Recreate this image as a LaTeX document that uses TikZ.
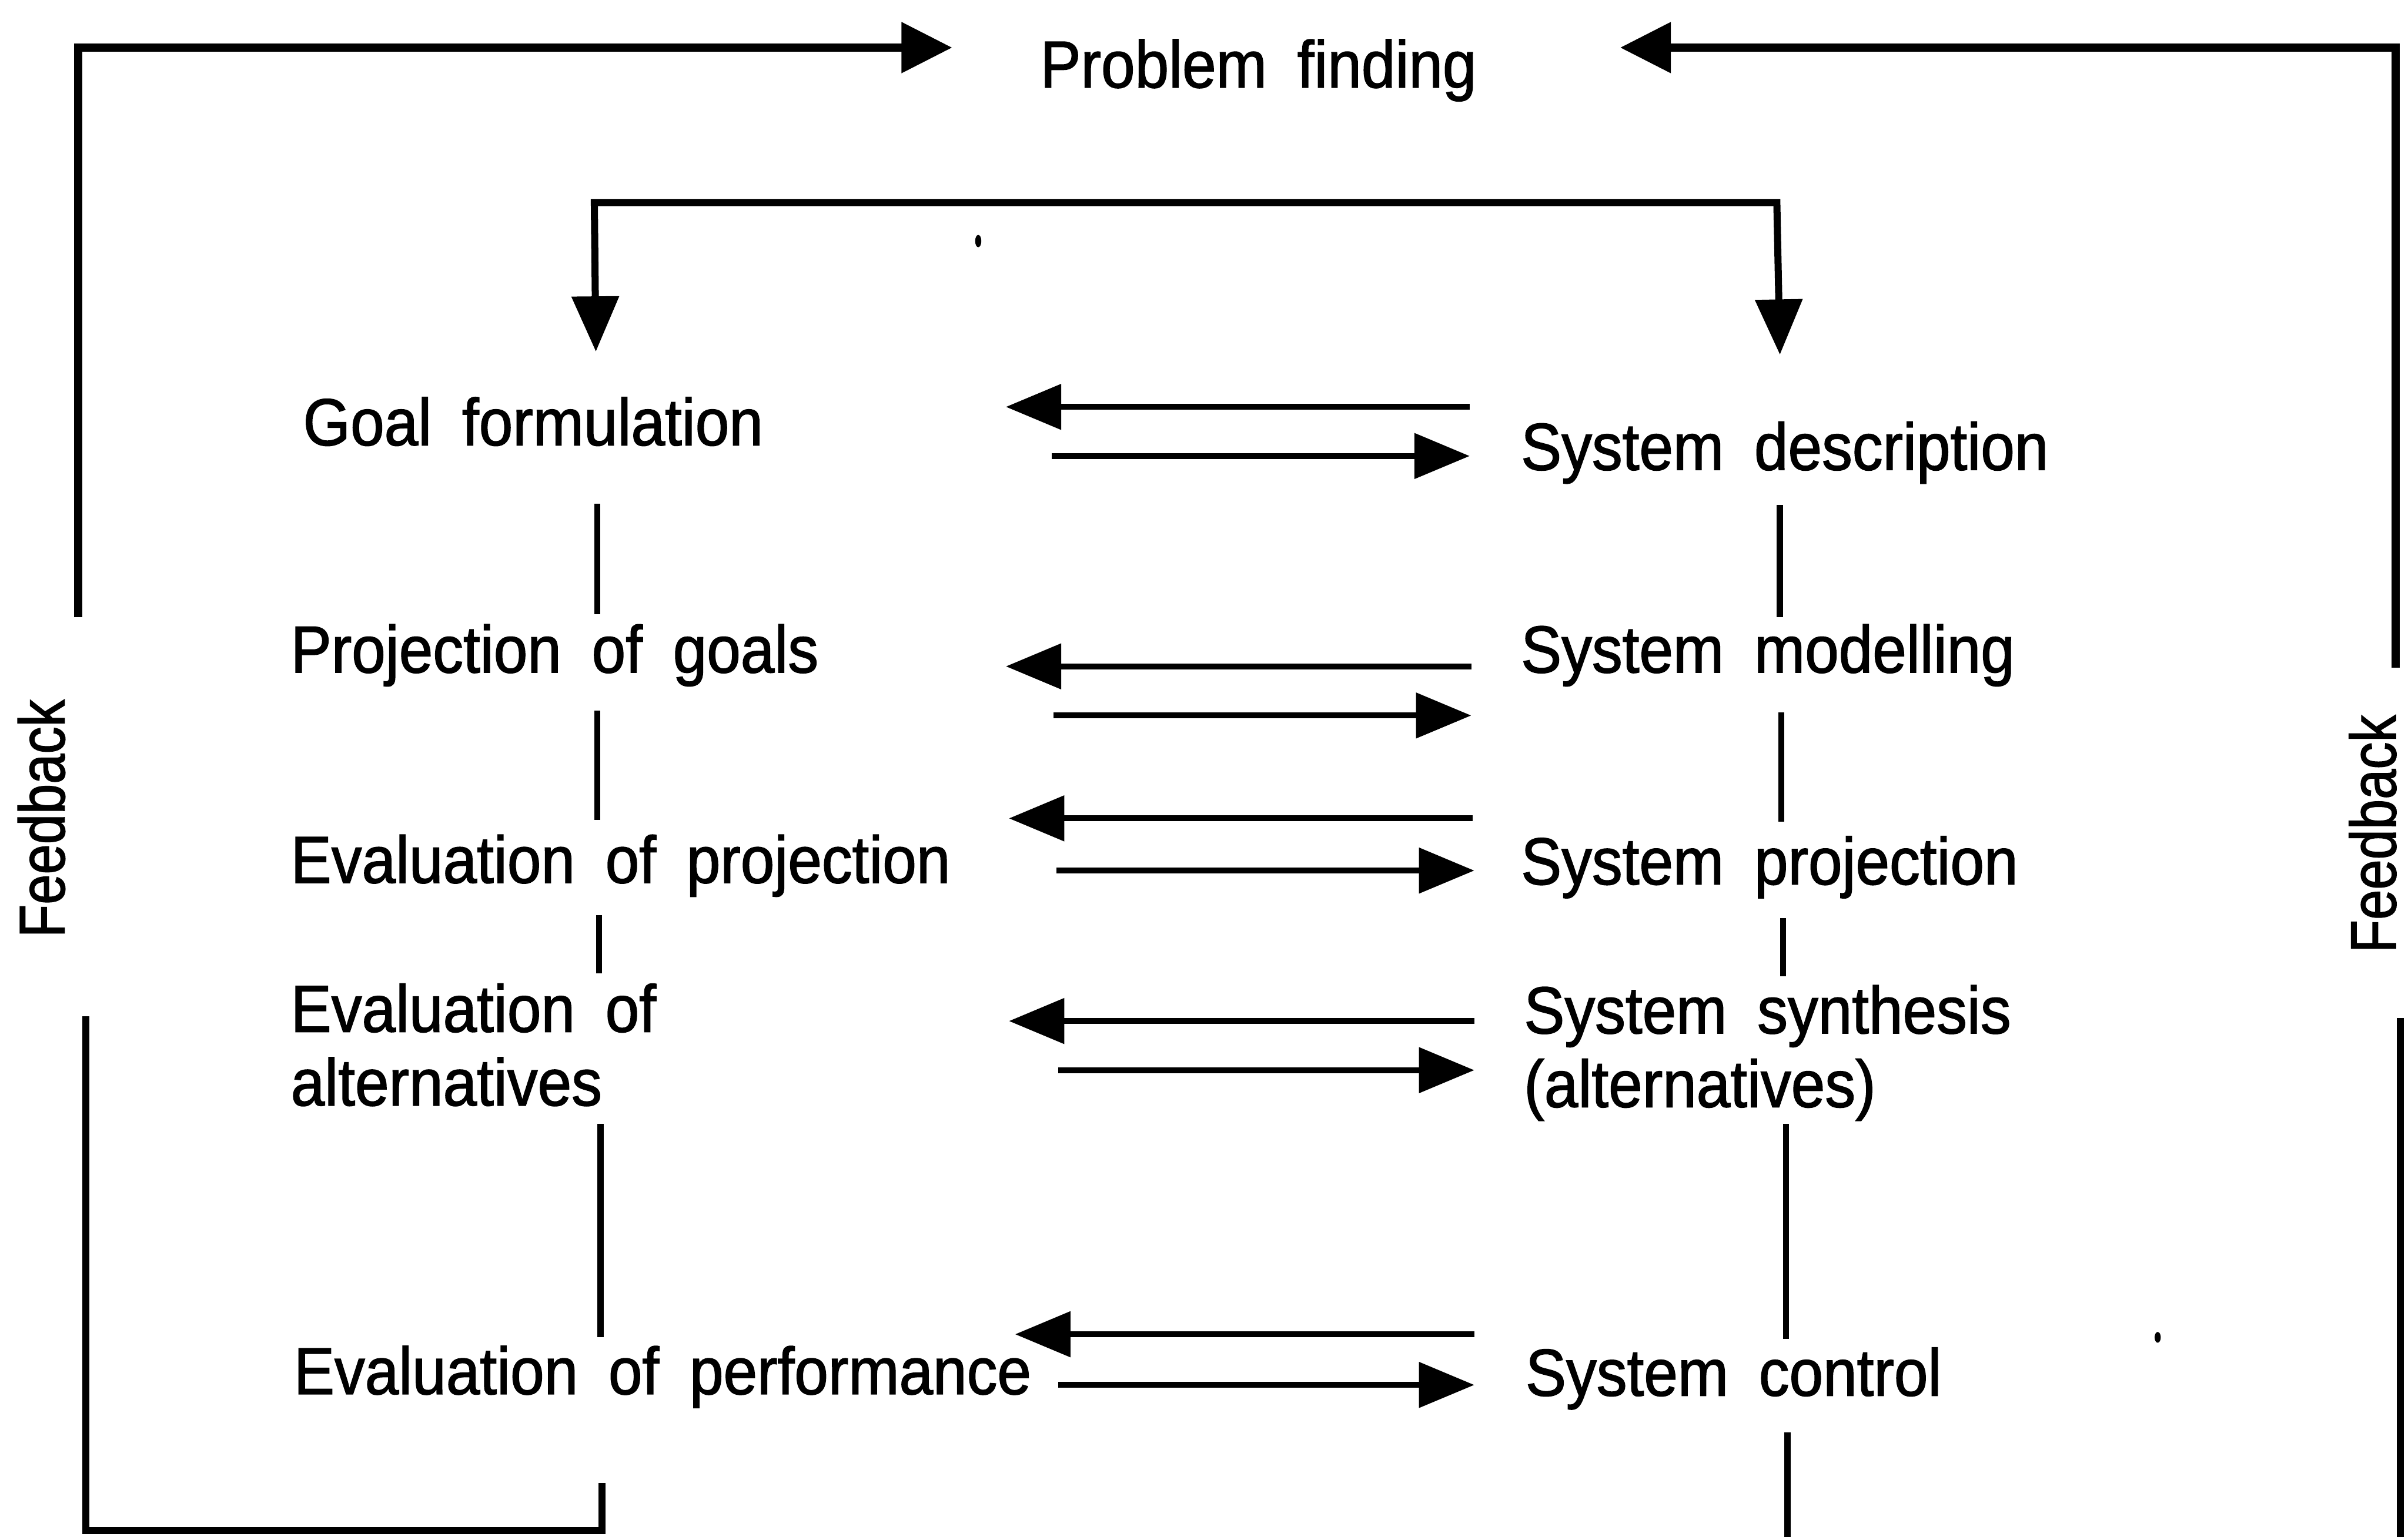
\documentclass[tikz,border=0pt]{standalone}
\usepackage{fontspec}
\setmainfont{Liberation Sans}[FakeStretch=0.915,WordSpace=1.8,FakeBold=1.4]
\newfontfamily\fbfont{Liberation Sans}[FakeStretch=0.84,FakeBold=1.4]
\usetikzlibrary{arrows.meta,calc}

\begin{document}
\begin{tikzpicture}[x=0.5pt,y=-0.5pt,
  lbl/.style={inner sep=0pt,anchor=base west,align=left,
              font=\fontsize{21.65pt}{24pt}\selectfont},
  fbk/.style={inner sep=0pt,anchor=base west,rotate=90,
              font=\fbfont\fontsize{21pt}{24pt}\selectfont},
  link/.style={line width=2pt},
  loopline/.style={line width=2.3pt},
  flow/.style={line width=1.9pt,-{Triangle[length=18pt,width=14.5pt]}},
  topflow/.style={line width=2.6pt,-{Triangle[length=16.5pt,width=16pt]}},
  fork/.style={line width=2.3pt,{Triangle[length=18pt,width=15pt]}-{Triangle[length=18pt,width=15pt]}},
  speck/.style={fill=black}
]
\useasboundingbox (0,0) rectangle (1568,1001);

% ---------- labels (two-line labels are placed by their last line) ----------
\node[lbl] (pf) at (677,57) {Problem finding};

\node[lbl] (gf)    at (197,290) {Goal formulation};
\node[lbl] (pg)    at (189,438) {Projection of goals};
\node[lbl] (ep)    at (189,575) {Evaluation of projection};
\node[lbl] (ea)    at (189,720) {Evaluation of\\alternatives};
\node[lbl] (eperf) at (191,908) {Evaluation of performance};

\node[lbl] (sd) at (990,306) {System description};
\node[lbl] (sm) at (990,438) {System modelling};
\node[lbl] (sp) at (990,576) {System projection};
\node[lbl] (ss) at (992,721) {System synthesis\\(alternatives)};
\node[lbl] (sc) at (993,909) {System control};

\node[fbk] (fbl) at (42,611)   {Feedback};
\node[fbk] (fbr) at (1560,621) {Feedback};

% ---------- end points of the connectors ----------
% left column
\coordinate (l1a) at (389,328); \coordinate (l1b) at (389,400);
\coordinate (l2a) at (389,463); \coordinate (l2b) at (389,534);
\coordinate (l3a) at (390,596); \coordinate (l3b) at (390,634);
\coordinate (l4a) at (391,732); \coordinate (l4b) at (391,871);
\coordinate (l5a) at (392,966); \coordinate (l5b) at (392,997);
% right column
\coordinate (r1a) at (1159,329); \coordinate (r1b) at (1159,402);
\coordinate (r2a) at (1160,464); \coordinate (r2b) at (1160,535);
\coordinate (r3a) at (1161,598); \coordinate (r3b) at (1161,636);
\coordinate (r4a) at (1163,732); \coordinate (r4b) at (1163,872);
\coordinate (r5a) at (1164,933); \coordinate (r5b) at (1164,1003);

% ---------- vertical links between the stages ----------
\draw[link] (l1a) -- (l1b);
\draw[link] (l2a) -- (l2b);
\draw[link] (l3a) -- (l3b);
\draw[link] (l4a) -- (l4b);
\draw[link] (r1a) -- (r1b);
\draw[link] (r2a) -- (r2b);
\draw[link] (r3a) -- (r3b);
\draw[link] (r4a) -- (r4b);
\draw[link] (r5a) -- (r5b);

% ---------- paired arrows between the two columns ----------
\draw[flow] (957,265) -- (655,265);
\draw[flow] (685,297) -- (957,297);
\draw[flow] (958,434) -- (655,434);
\draw[flow] (686,466) -- (958,466);
\draw[flow] (959,533) -- (657,533);
\draw[flow] (688,567) -- (960,567);
\draw[flow] (960,665) -- (657,665);
\draw[flow] (689,697) -- (960,697);
\draw[flow] (960,869) -- (661,869);
\draw[flow] (689,902) -- (960,902);

% ---------- fork from the problem to both columns ----------
\coordinate (fkl) at (388,229);
\coordinate (fkr) at (1159,231);
\draw[fork,line join=miter] (fkl) -- (387,132) -- (1157,132) -- (fkr);

% ---------- feedback loops ----------
\coordinate (pfl) at (620,31);
\coordinate (pfr) at (1055,31);
\draw[loopline,line join=miter] (l5a) -- (l5b) -- (56,997) -- (56,662);
\draw[topflow,line join=miter] (51,402) -- (51,31) -- (pfl);
\draw[loopline] (1563,1003) -- (1563,663);
\draw[topflow,line join=miter] (1560,435) -- (1560,31) -- (pfr);

% ---------- specks ----------
\fill[speck] (637,157) ellipse (2 and 4);
\fill[speck] (1405,871) ellipse (2 and 3.5);
\end{tikzpicture}
\end{document}
